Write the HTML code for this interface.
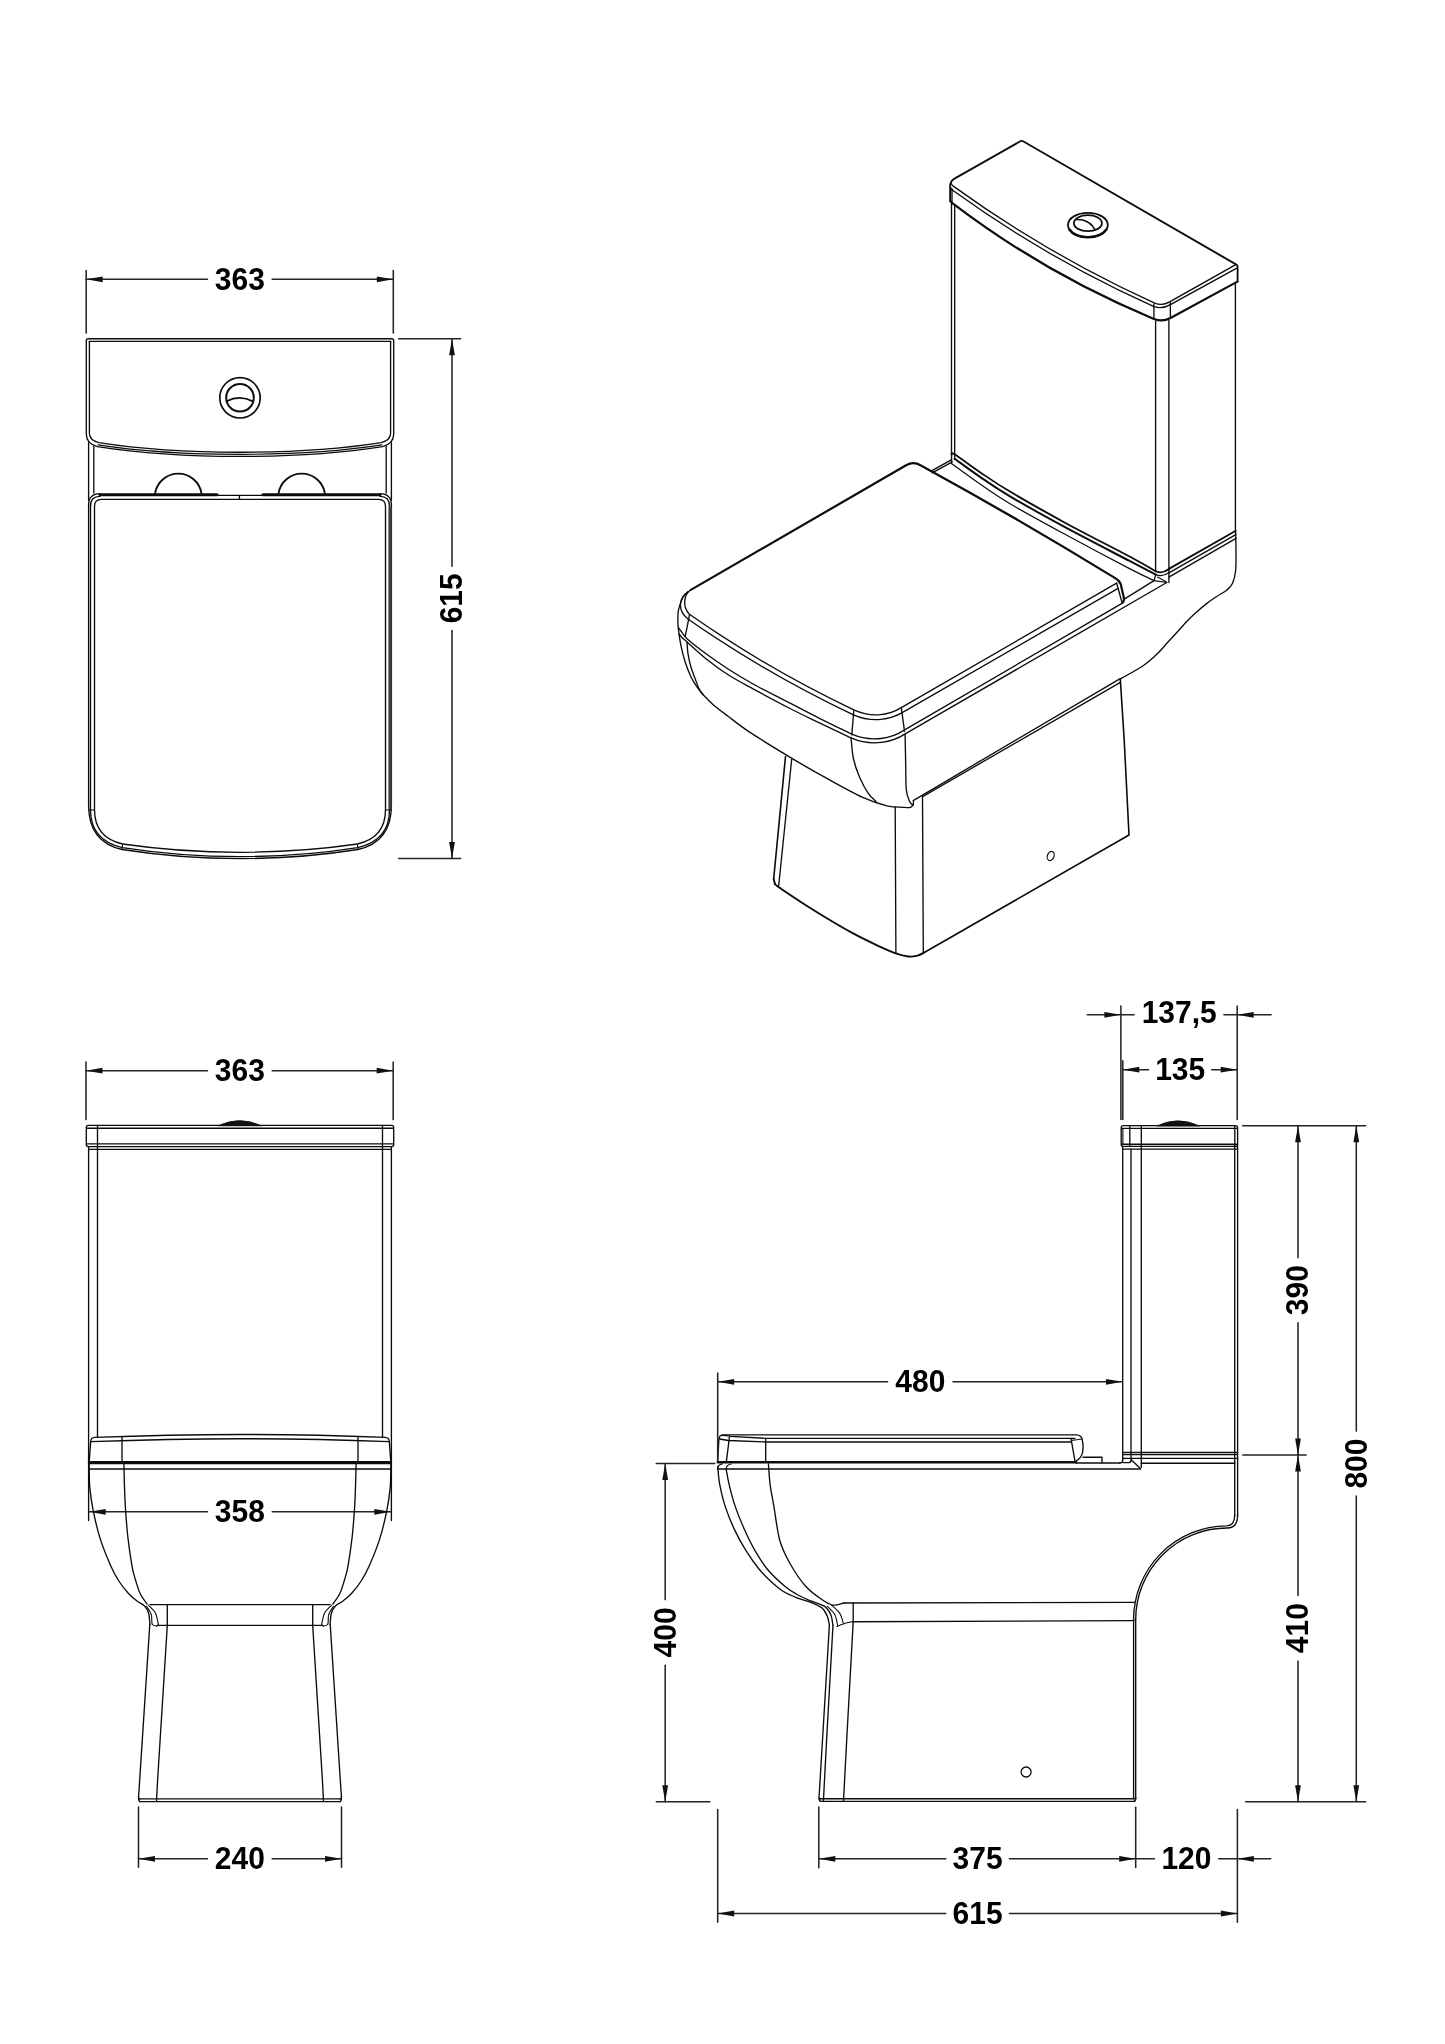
<!DOCTYPE html>
<html lang="en"><head><meta charset="utf-8"><title>Close coupled toilet - technical drawing</title>
<style>html,body{margin:0;padding:0;background:#fff}body{width:1445px;height:2044px;overflow:hidden}svg{display:block;will-change:transform}</style>
</head><body>
<svg width="1445" height="2044" viewBox="0 0 1445 2044" fill="none" stroke="#0c0c0c" stroke-width="1.35" stroke-linecap="round" stroke-linejoin="round" font-family="'Liberation Sans', sans-serif" font-weight="700" font-size="31" text-anchor="middle">
<style>text{fill:#000;stroke:none}.d{stroke:#242424;stroke-width:1.55}</style>
<g id="top-view">
<path class="d" d="M86.2 270.6L86.2 333"/>
<path class="d" d="M393.3 270.6L393.3 333"/>
<path class="d" d="M86.2 279.3L207.4 279.3"/>
<path class="d" d="M272.2 279.3L393.3 279.3"/>
<path d="M86.2 279.3L102.7 276.4L102.7 282.2Z" fill="#111" stroke="none"/>
<path d="M393.3 279.3L376.8 276.4L376.8 282.2Z" fill="#111" stroke="none"/>
<text transform="translate(239.8 289.7) scale(0.968 1)" x="0" y="0">363</text>
<path class="d" d="M398.7 338.7L460.6 338.7"/>
<path class="d" d="M398.7 858.4L460.6 858.4"/>
<path class="d" d="M452 338.7L452 566.3"/>
<path class="d" d="M452 630.4L452 858.4"/>
<path d="M452 338.7L449.1 355.2L454.9 355.2Z" fill="#111" stroke="none"/>
<path d="M452 858.4L449.1 841.9L454.9 841.9Z" fill="#111" stroke="none"/>
<text transform="translate(452 598.3) rotate(-90) scale(0.968 1)" x="0" y="10.4">615</text>
<path d="M88.3 338.7H391.7Q393.7 338.7 393.7 340.7V434Q393.7 443.6 382.7 446.6Q320 456.4 240 456.4Q160 456.4 97.3 446.6Q86.3 443.6 86.3 434V340.7Q86.3 338.7 88.3 338.7Z"/>
<path d="M89.4 341.4H390.6"/>
<path d="M89.4 341.4V433.5Q89.6 440.2 98.8 442.6Q160 452.2 240 452.2Q320 452.2 381.2 442.6Q390.4 440.2 390.6 433.5V341.4"/>
<path d="M98 444.8Q160 454.3 240 454.3Q320 454.3 382 444.8" stroke-width="1.2"/>
<circle cx="240" cy="397.8" r="20.2" stroke-width="1.7"/>
<circle cx="240" cy="397.7" r="13.8" stroke-width="2"/>
<path d="M226.6 401.2Q239.8 394.4 252.9 401.4" stroke-width="1.8"/>
<path d="M88.6 442L88.6 500"/>
<path d="M93.8 446.5L93.8 493"/>
<path d="M391.4 442L391.4 500"/>
<path d="M386.2 446.5L386.2 493"/>
<path d="M155.1 493.4A23.5 23.5 0 0 1 201.5 493.4" stroke-width="1.9"/>
<path d="M278.5 493.4A23.5 23.5 0 0 1 324.9 493.4" stroke-width="1.9"/>
<path d="M100 494.7L217 494.7" stroke-width="3.1"/>
<path d="M263 494.7L380 494.7" stroke-width="3.1"/>
<path d="M216 495.4L264 495.4"/>
<path d="M239.4 495.4L239.4 499.2"/>
<path d="M100 493.7Q88.6 494 88.6 505V805Q88.4 842 122.2 849.5Q180 858.6 240 858.6Q300 858.6 357.8 849.5Q391.6 842 391.4 805V505Q391.4 494 380 493.7"/>
<path d="M90.5 506Q90.6 496.4 100 496.4M389.5 506Q389.4 496.4 380 496.4"/>
<path d="M90.5 505V810Q90.6 840.5 122.4 847.6Q180 856.6 240 856.6Q300 856.6 357.6 847.6Q389.4 840.5 389.5 810V505"/>
<path d="M101.5 499.3H378.5Q385.5 499.3 385.5 506.3V810Q385.4 837.5 357.4 844Q300 852.3 240 852.3Q180 852.3 122.6 844Q94.6 837.5 94.5 810V506.3Q94.5 499.3 101.5 499.3Z"/>
<path d="M390.2 507V810" stroke="#3c3c3c" stroke-width="3.3" stroke-linecap="butt"/>
<path d="M88.6 810L94.5 810" stroke-width="1.1"/>
<path d="M122.2 849.5L122.6 844" stroke-width="1.1"/>
<path d="M391.4 810L385.5 810" stroke-width="1.1"/>
<path d="M357.8 849.5L357.4 844" stroke-width="1.1"/>
</g>
<g id="front-view">
<path class="d" d="M86 1062.1L86 1119.6"/>
<path class="d" d="M393.2 1062.1L393.2 1119.6"/>
<path class="d" d="M86 1070.7L207.4 1070.7"/>
<path class="d" d="M272.2 1070.7L393.2 1070.7"/>
<path d="M86 1070.7L102.5 1067.8L102.5 1073.6Z" fill="#111" stroke="none"/>
<path d="M393.2 1070.7L376.7 1067.8L376.7 1073.6Z" fill="#111" stroke="none"/>
<text transform="translate(239.8 1081.1) scale(0.968 1)" x="0" y="0">363</text>
<path d="M88.3 1125.4H391.7Q393.7 1125.4 393.7 1127.4V1144.6Q393.7 1146.6 391.7 1146.6H88.3Q86.3 1146.6 86.3 1144.6V1127.4Q86.3 1125.4 88.3 1125.4Z"/>
<path d="M87 1128.2H393"/>
<path d="M86.6 1143.8H393.4"/>
<path d="M88.7 1149.3H391.3"/>
<path d="M218.5 1125.6Q240 1115.6 261 1125.6Z" fill="#111" stroke="#111" stroke-width="0.8"/>
<path d="M88.6 1146.6L88.6 1520.4"/>
<path d="M97.5 1125.4L97.5 1437.2"/>
<path d="M391.4 1146.6L391.4 1520.4"/>
<path d="M382.5 1125.4L382.5 1437.2"/>
<path class="d" d="M89.2 1511.8L207.4 1511.8"/>
<path class="d" d="M272.2 1511.8L390.8 1511.8"/>
<path d="M89.2 1511.8L105.7 1508.9L105.7 1514.7Z" fill="#111" stroke="none"/>
<path d="M390.8 1511.8L374.3 1508.9L374.3 1514.7Z" fill="#111" stroke="none"/>
<text transform="translate(239.8 1522.2) scale(0.968 1)" x="0" y="0">358</text>
<path d="M89.3 1461Q90 1450 90.7 1441.4Q91 1437.6 94.6 1437.4Q170 1434.5 240 1434.5Q310 1434.5 385.4 1437.4Q389 1437.6 389.3 1441.4Q390 1450 390.7 1461"/>
<path d="M91 1441.6Q170 1438.7 240 1438.7Q310 1438.7 389 1441.6"/>
<path d="M122 1436.6L122 1461"/>
<path d="M358 1436.6L358 1461"/>
<path d="M89.4 1462.6L390.6 1462.6" stroke-width="3.1"/>
<path d="M89.8 1469H390.2"/>
<path d="M89.2 1464.5C89.2 1465.4 89.1 1466 89.2 1470C89.3 1474 89.2 1481.8 89.9 1488.6C90.6 1495.4 91.5 1502.4 93.2 1510.7C94.9 1519 97.2 1529.2 100.1 1538.4C103 1547.6 107.7 1559 110.8 1566.1C113.9 1573.2 115.8 1576.4 118.8 1581C121.8 1585.6 125.5 1590.2 128.5 1593.5C131.5 1596.8 134.3 1599 137 1601C139.7 1603 142.5 1603.8 144.4 1605.8C146.3 1607.8 147.7 1610.1 148.6 1613.2C149.5 1616.3 149.7 1622.6 149.9 1624.5"/>
<path d="M123.9 1463.7C124 1468.1 124.3 1482.2 124.6 1490C124.9 1497.8 125 1502.6 125.6 1510.7C126.2 1518.8 126.9 1529.2 128 1538.4C129.1 1547.6 130.8 1559.2 132 1566.1C133.2 1573 134.1 1575.4 135.5 1580C136.9 1584.6 138.4 1589.8 140.3 1593.8C142.2 1597.8 146 1602.5 147.2 1604.2"/>
<path d="M146.5 1606.3C147.3 1607.7 150.4 1611.6 151.3 1614.6C152.2 1617.6 151.3 1622.4 152.2 1624.3C153.1 1626.2 156.1 1625.9 156.9 1626.2" stroke-width="1.1"/>
<path d="M148.6 1605.4C149.8 1606.7 153.8 1609.9 155.5 1613.2C157.2 1616.5 158 1623.2 158.5 1625.2" stroke-width="1.1"/>
<path d="M167.3 1604.6L167.3 1625.5"/>
<path d="M149.8 1624.3L139.7 1780L138.5 1797.8L140 1798.8"/>
<path d="M167.3 1625.5L157.6 1780L156.5 1801.4"/>
<path d="M390.8 1464.5C390.8 1465.4 390.9 1466 390.8 1470C390.7 1474 390.8 1481.8 390.1 1488.6C389.4 1495.4 388.5 1502.4 386.8 1510.7C385.1 1519 382.8 1529.2 379.9 1538.4C377 1547.6 372.3 1559 369.2 1566.1C366.1 1573.2 364.1 1576.4 361.2 1581C358.2 1585.6 354.5 1590.2 351.5 1593.5C348.5 1596.8 345.6 1599 343 1601C340.4 1603 337.5 1603.8 335.6 1605.8C333.7 1607.8 332.3 1610.1 331.4 1613.2C330.5 1616.3 330.3 1622.6 330.1 1624.5"/>
<path d="M356.1 1463.7C356 1468.1 355.7 1482.2 355.4 1490C355.1 1497.8 355 1502.6 354.4 1510.7C353.8 1518.8 353.1 1529.2 352 1538.4C350.9 1547.6 349.2 1559.2 348 1566.1C346.8 1573 345.9 1575.4 344.5 1580C343.1 1584.6 341.6 1589.8 339.7 1593.8C337.8 1597.8 333.9 1602.5 332.8 1604.2"/>
<path d="M333.5 1606.3C332.7 1607.7 329.6 1611.6 328.7 1614.6C327.8 1617.6 328.7 1622.4 327.8 1624.3C326.9 1626.2 323.9 1625.9 323.1 1626.2" stroke-width="1.1"/>
<path d="M331.4 1605.4C330.2 1606.7 326.1 1609.9 324.5 1613.2C322.9 1616.5 322 1623.2 321.5 1625.2" stroke-width="1.1"/>
<path d="M312.7 1604.6L312.7 1625.5"/>
<path d="M330.2 1624.3L340.3 1780L341.5 1797.8L340 1798.8"/>
<path d="M312.7 1625.5L322.4 1780L323.5 1801.4"/>
<path d="M150 1604.6H330"/>
<path d="M157 1625.4H323"/>
<path d="M138.6 1798.8H341.4"/>
<path d="M139.6 1801.6H340.4"/>
<path d="M138.5 1797.8Q138.5 1801.6 140.5 1801.6M341.5 1797.8Q341.5 1801.6 339.5 1801.6"/>
<path class="d" d="M138.5 1807.1L138.5 1867.3"/>
<path class="d" d="M341.5 1807.1L341.5 1867.3"/>
<path class="d" d="M138.5 1858.8L207.4 1858.8"/>
<path class="d" d="M272.2 1858.8L341.5 1858.8"/>
<path d="M138.5 1858.8L155 1855.9L155 1861.7Z" fill="#111" stroke="none"/>
<path d="M341.5 1858.8L325 1855.9L325 1861.7Z" fill="#111" stroke="none"/>
<text transform="translate(239.8 1869.2) scale(0.968 1)" x="0" y="0">240</text>
</g>
<g id="side-view">
<path class="d" d="M1120.9 1006.1L1120.9 1119.5"/>
<path class="d" d="M1237.2 1006.1L1237.2 1119.5"/>
<path class="d" d="M1122.8 1060.8L1122.8 1119.5"/>
<path class="d" d="M1087.3 1014.8L1134.2 1014.8"/>
<path d="M1120.9 1014.8L1104.4 1011.9L1104.4 1017.7Z" fill="#111" stroke="none"/>
<path class="d" d="M1223.9 1014.8L1271.1 1014.8"/>
<path d="M1237.2 1014.8L1253.7 1011.9L1253.7 1017.7Z" fill="#111" stroke="none"/>
<text transform="translate(1179.2 1022.7) scale(0.968 1)" x="0" y="0">137,5</text>
<path class="d" d="M1122.8 1069.7L1148.6 1069.7"/>
<path d="M1122.8 1069.7L1139.3 1066.8L1139.3 1072.6Z" fill="#111" stroke="none"/>
<path class="d" d="M1211.7 1069.7L1237.2 1069.7"/>
<path d="M1237.2 1069.7L1220.7 1066.8L1220.7 1072.6Z" fill="#111" stroke="none"/>
<text transform="translate(1180.2 1080.1) scale(0.968 1)" x="0" y="0">135</text>
<path d="M1123.2 1125.6H1235.6Q1237.6 1125.6 1237.6 1127.6V1144.4Q1237.6 1146.4 1235.6 1146.4H1123.2Q1121.2 1146.4 1121.2 1144.4V1127.6Q1121.2 1125.6 1123.2 1125.6Z"/>
<path d="M1122 1128.4H1237"/>
<path d="M1121.6 1144.2H1237.2"/>
<path d="M1122.6 1149.1H1237.4"/>
<path d="M1122.9 1128.4L1122.9 1144.2" stroke-width="1.1"/>
<path d="M1129.8 1125.6L1129.8 1146.4"/>
<path d="M1141.3 1125.6L1141.3 1467.4"/>
<path d="M1234.8 1125.6L1234.8 1146.4"/>
<path d="M1157.2 1125.8Q1178 1115.8 1199 1125.8Z" fill="#111" stroke="#111" stroke-width="0.8"/>
<path d="M1122.7 1146.4L1122.7 1460"/>
<path d="M1131 1149.1L1131 1459.8"/>
<path d="M1234.7 1146.4L1234.7 1516"/>
<path d="M1237.6 1146.4L1237.6 1516"/>
<path d="M1122.8 1452.6H1237.6" stroke-width="1.5"/>
<path d="M1122.8 1454.6H1237.6" stroke-width="1.2"/>
<path d="M1122.8 1458.4H1237.6"/>
<path d="M1141.3 1463.2H1234.7"/>
<path d="M1122.7 1459.5Q1122.7 1463 1119.5 1463.1"/>
<path d="M1122.8 1462.6H1129Q1131.2 1462.4 1131.2 1459.8L1140.4 1468.4"/>
<path d="M717.8 1462.3L1076 1462.3" stroke-width="2.4"/>
<path d="M1076 1463H1120"/>
<path d="M718.8 1469H1140.6"/>
<path d="M1083 1457.2H1102V1462.8"/>
<path d="M717.7 1461.2L718.9 1439.2Q719.2 1435 723.2 1434.8H1076.5Q1081.6 1435 1082.3 1440Q1084.2 1450 1081.5 1455.5Q1079 1460.6 1074 1461.6"/>
<path d="M721.6 1435.3Q726 1435.5 730.5 1436.3L765.7 1438.3H1075"/>
<path d="M719.6 1439L728.3 1440.5L765.7 1442H1071"/>
<path d="M729.4 1437.4L726.4 1461.4"/>
<path d="M765.7 1438.5L765.7 1461.6"/>
<path d="M1071 1438.4L1074.9 1460.8"/>
<path d="M1071.4 1440.4Q1077 1440 1082 1439" stroke-width="1.1"/>
<path d="M717.6 1469.5Q717.4 1464.4 722.4 1463.8M726.1 1469.5Q726.2 1464.6 731.2 1464" stroke-width="1.2"/>
<path d="M717.7 1466.6C718 1469.5 718.5 1477.7 719.7 1484.3C721 1490.9 722.8 1499 725.2 1506.4C727.6 1513.8 730.5 1521.2 734 1528.6C737.5 1536 741.8 1544 746 1550.7C750.2 1557.4 754.8 1563.9 759 1569C763.2 1574.1 767 1577.8 771 1581.5C775 1585.2 778.7 1588.5 783 1591.2C787.3 1593.9 792.4 1596 797 1597.8C801.6 1599.6 806.6 1600.6 810.7 1602.3C814.8 1604 819 1605.5 821.8 1607.8C824.6 1610.1 826 1613.2 827.3 1616.1C828.6 1619 829 1623.6 829.4 1625.1"/>
<path d="M726.1 1468.8C726.6 1471.4 727.6 1478 729.1 1484.3C730.6 1490.6 732.7 1499 735.2 1506.4C737.7 1513.8 740.7 1521.2 744 1528.6C747.3 1536 751 1543.8 755 1550.7C759 1557.6 762.9 1563.9 768 1570C773.1 1576.1 780.8 1582.9 785.8 1587.1C790.8 1591.3 793.9 1592.7 798 1595C802.1 1597.3 806.3 1599 810.7 1600.9C815.1 1602.8 821.2 1604.1 824.6 1606.4C828 1608.7 829.4 1611.6 830.8 1614.7C832.2 1617.8 832.5 1623.4 832.9 1625.1"/>
<path d="M768.4 1463.8C768.7 1467.2 769.2 1477.2 770.1 1484.3C771 1491.4 772.3 1497 773.9 1506.4C775.5 1515.8 777.1 1531 779.8 1540.5C782.5 1550 785.8 1556 790 1563.5C794.2 1571 799.9 1579.7 805.2 1585.7C810.5 1591.7 817.2 1596.3 821.8 1599.5C826.4 1602.7 829.2 1604.5 832.9 1605.1C836.6 1605.7 842.1 1603.3 843.9 1603"/>
<path d="M843.9 1603L1134.6 1602.4"/>
<path d="M837 1626.5C838.1 1626 841.4 1624.5 843.9 1623.7C846.4 1622.9 850.8 1622 852.2 1621.7" stroke-width="1.1"/>
<path d="M852.2 1621.7L1134 1620.6"/>
<path d="M827.3 1606.4C828.6 1607.8 833.2 1611.5 834.9 1614.7C836.6 1617.9 837.2 1624 837.7 1625.8" stroke-width="1.1"/>
<path d="M831.5 1605.1C832.9 1606.5 837.8 1610.4 839.8 1613.4C841.8 1616.4 842.7 1621.4 843.3 1623" stroke-width="1.1"/>
<path d="M853.2 1603L853.2 1621.7"/>
<path d="M853.2 1621.7L846.7 1740L843.5 1801"/>
<path d="M829.4 1625.1L822.5 1740L819 1798L820.5 1798.8"/>
<path d="M833 1625.1L826.6 1740L823.4 1801"/>
<path d="M819.2 1798.7H1135.6"/>
<path d="M820.5 1801.3H1134.8"/>
<path d="M819 1798Q819 1801.3 821 1801.3M1135.7 1798Q1135.7 1801.3 1133.7 1801.3"/>
<path d="M1133.6 1619.6L1133.6 1798.7"/>
<path d="M1135.7 1619.6L1135.7 1798.7"/>
<path d="M1237.6 1515.2Q1237.6 1527.6 1227.6 1528A91.6 91.6 0 0 0 1135.7 1619.6"/>
<path d="M1234.7 1515.2Q1234.6 1525.6 1226.5 1525.9A93.7 93.7 0 0 0 1133.6 1619.6"/>
<circle cx="1026.1" cy="1772" r="5" stroke-width="1.3"/>
<path class="d" d="M1242.7 1125.7L1365.6 1125.7"/>
<path class="d" d="M1242.8 1455L1306.2 1455"/>
<path class="d" d="M1245.7 1801.7L1365.6 1801.7"/>
<path class="d" d="M1298 1125.7L1298 1257.8"/>
<path class="d" d="M1298 1322.7L1298 1455"/>
<path d="M1298 1125.7L1295.1 1142.2L1300.9 1142.2Z" fill="#111" stroke="none"/>
<path d="M1298 1455L1295.1 1438.5L1300.9 1438.5Z" fill="#111" stroke="none"/>
<text transform="translate(1298 1290.2) rotate(-90) scale(0.968 1)" x="0" y="10.4">390</text>
<path class="d" d="M1298 1455L1298 1595.4"/>
<path class="d" d="M1298 1661L1298 1801.7"/>
<path d="M1298 1455L1295.1 1471.5L1300.9 1471.5Z" fill="#111" stroke="none"/>
<path d="M1298 1801.7L1295.1 1785.2L1300.9 1785.2Z" fill="#111" stroke="none"/>
<text transform="translate(1298 1628.2) rotate(-90) scale(0.968 1)" x="0" y="10.4">410</text>
<path class="d" d="M1356.3 1125.7L1356.3 1431.1"/>
<path class="d" d="M1356.3 1496.1L1356.3 1801.7"/>
<path d="M1356.3 1125.7L1353.4 1142.2L1359.2 1142.2Z" fill="#111" stroke="none"/>
<path d="M1356.3 1801.7L1353.4 1785.2L1359.2 1785.2Z" fill="#111" stroke="none"/>
<text transform="translate(1356.3 1463.6) rotate(-90) scale(0.968 1)" x="0" y="10.4">800</text>
<path class="d" d="M656.3 1463.5L714.7 1463.5"/>
<path class="d" d="M656.3 1801.7L709.8 1801.7"/>
<path class="d" d="M665.2 1463.5L665.2 1599.6"/>
<path class="d" d="M665.2 1665.2L665.2 1801.7"/>
<path d="M665.2 1463.5L662.3 1480L668.1 1480Z" fill="#111" stroke="none"/>
<path d="M665.2 1801.7L662.3 1785.2L668.1 1785.2Z" fill="#111" stroke="none"/>
<text transform="translate(665.2 1632.4) rotate(-90) scale(0.968 1)" x="0" y="10.4">400</text>
<path class="d" d="M717.7 1373.1L717.7 1461.2"/>
<path class="d" d="M717.7 1381.8L887.6 1381.8"/>
<path class="d" d="M953 1381.8L1122.5 1381.8"/>
<path d="M717.7 1381.8L734.2 1378.9L734.2 1384.7Z" fill="#111" stroke="none"/>
<path d="M1122.5 1381.8L1106 1378.9L1106 1384.7Z" fill="#111" stroke="none"/>
<text transform="translate(920.3 1392.2) scale(0.968 1)" x="0" y="0">480</text>
<path class="d" d="M818.8 1807.1L818.8 1867.7"/>
<path class="d" d="M1135.7 1807.3L1135.7 1867.5"/>
<path class="d" d="M818.8 1858.8L945.8 1858.8"/>
<path class="d" d="M1009.5 1858.8L1135.7 1858.8"/>
<path d="M818.8 1858.8L835.3 1855.9L835.3 1861.7Z" fill="#111" stroke="none"/>
<path d="M1135.7 1858.8L1119.2 1855.9L1119.2 1861.7Z" fill="#111" stroke="none"/>
<text transform="translate(977.6 1869.2) scale(0.968 1)" x="0" y="0">375</text>
<path class="d" d="M1135.7 1858.8L1154.4 1858.8"/>
<path class="d" d="M1218.8 1858.8L1270.7 1858.8"/>
<path d="M1237.4 1858.8L1253.9 1855.9L1253.9 1861.7Z" fill="#111" stroke="none"/>
<text transform="translate(1186.4 1869.2) scale(0.968 1)" x="0" y="0">120</text>
<path class="d" d="M717.7 1809.4L717.7 1922.2"/>
<path class="d" d="M1237.4 1809.4L1237.4 1922.2"/>
<path class="d" d="M717.7 1913.5L945.8 1913.5"/>
<path class="d" d="M1009.5 1913.5L1237.4 1913.5"/>
<path d="M717.7 1913.5L734.2 1910.6L734.2 1916.4Z" fill="#111" stroke="none"/>
<path d="M1237.4 1913.5L1220.9 1910.6L1220.9 1916.4Z" fill="#111" stroke="none"/>
<text transform="translate(977.6 1923.9) scale(0.968 1)" x="0" y="0">615</text>
</g>
<g id="iso-view">
<path d="M950.1 201V186.5Q950.2 181 954.5 178.6L1020.3 141.3Q1021.7 140.5 1023.1 141.3L1236.4 264.6Q1237.6 265.3 1237.6 266.8V281.6" stroke-width="1.8"/>
<path d="M951.4 183.6Q952 185.4 953.6 186.4Q1047.8 254.5 1154.7 303.1Q1162.3 306.2 1169.6 301.9L1235.8 264.6"/>
<path d="M950.4 187.4Q951.4 189.6 953.4 190.8Q1047.4 258.8 1154 306.6Q1162.3 309.4 1170.4 304.6L1236.8 268.2"/>
<path d="M952 189L952 202.6"/>
<path d="M1153.9 304L1153.9 318.9"/>
<path d="M1170.3 302.4L1170.4 318"/>
<path d="M950.6 201.4Q951.2 202.8 953 203.6Q1045.7 274.1 1153.9 318.9Q1162.2 322.4 1170.5 318L1237.4 281.6" stroke-width="2.2"/>
<ellipse cx="1087.9" cy="225" rx="19.9" ry="12.2" stroke-width="1.8"/>
<path d="M1069.6 229.8A19.9 12.2 0 0 0 1106.2 229.8" stroke-width="2.5"/>
<ellipse cx="1087.9" cy="223.2" rx="14" ry="8" stroke-width="1.8"/>
<path d="M1076 219.4C1076.8 219.5 1079.4 219.5 1081 219.8C1082.6 220.1 1084 220.4 1085.4 221C1086.8 221.6 1088.3 222.4 1089.4 223.2C1090.5 224 1091.2 224.5 1092.1 225.6C1093 226.7 1094.4 229.1 1094.9 229.8" stroke-width="1.6"/>
<path d="M951.5 203L951.5 455.5"/>
<path d="M954.7 205L954.7 459.5"/>
<path d="M1155.6 321.5L1155.6 571.5"/>
<path d="M1168.9 320.5L1168.9 582.5"/>
<path d="M1235.4 283L1235.4 531"/>
<path d="M951.6 454.6C952.1 454.6 949.9 451.4 954.6 454.3C959.3 457.2 970.8 466 980 472.2C989.2 478.4 995.8 483.2 1010 491.6C1024.2 500 1045 511.8 1065 522.7C1085 533.6 1114.9 548.7 1130 556.8C1145.1 564.9 1151.5 568.8 1155.8 571.2" stroke-width="1.8"/>
<path d="M1155.8 571.2Q1162.3 574.2 1168.9 569" stroke-width="1.8"/>
<path d="M954.6 458.7C958.8 461.7 970.8 470.6 980 476.9C989.2 483.2 995.8 488 1010 496.4C1024.2 504.8 1045 516.4 1065 527.2C1085 538 1114.9 553.3 1130 561.2C1145.1 569.1 1151.5 572.4 1155.8 574.6" stroke-width="2"/>
<path d="M1155.8 574.6Q1162.3 577.2 1168.9 572.8"/>
<path d="M951.4 463.5C956.2 466.9 970.2 477.3 980 484C989.8 490.7 995.8 495.3 1010 503.7C1024.2 512.1 1045 523.4 1065 534.3C1085 545.2 1115.2 561.2 1130 568.9C1144.8 576.6 1150 578.6 1154 580.6" stroke-width="1.2"/>
<path d="M951.6 455.5L951.4 463.5M1155.8 574.6L1154 580.6"/>
<path d="M1168.9 568.9L1235.4 531" stroke-width="1.8"/>
<path d="M1168.9 572.8L1235.8 534.6"/>
<path d="M1168.9 577.2L1236 538.4"/>
<path d="M1154 580.6L1166.8 582.5M1157.6 577L1166.8 582.3" stroke-width="1.1"/>
<path d="M931.1 471.1L951.7 459.6M932.2 472.8L952.3 461.8"/>
<path d="M1154 580.6L1123.9 599.4"/>
<path d="M1235.6 530C1235.7 533.7 1236 545.2 1236 552C1236 558.8 1236.2 565.7 1235.6 571C1235 576.3 1233.9 580.4 1232.4 583.6C1231 586.8 1229.6 587.8 1226.9 590C1224.2 592.2 1219.7 594.5 1216.3 596.8C1212.9 599.1 1209.8 601.1 1206.6 603.6C1203.4 606.1 1200.1 608.9 1196.9 611.8C1193.7 614.7 1190.4 617.7 1187.2 621C1184 624.3 1180.7 628.2 1177.5 631.7C1174.3 635.2 1171 638.8 1167.8 642.3C1164.6 645.8 1161.3 649.8 1158.1 653C1154.9 656.2 1151.6 659.1 1148.4 661.7C1145.2 664.3 1143.5 665.6 1138.8 668.5C1134.1 671.4 1123.4 677.2 1120.3 678.9"/>
<path d="M690.8 589.9L906.1 465.2Q913.5 461 920.5 465.2Q1019.2 519.2 1114.8 577.9Q1119.4 580.5 1120.7 584L1123.9 598Q1124.4 601.4 1122.4 602.8" stroke-width="2.2"/>
<path d="M1116.6 583L1121.8 601.8"/>
<path d="M690.8 589.9C684 594 682.2 606 689.1 614Q767.4 668.8 853.8 709.8C873 718.6 890 714.6 901.3 707.6L1116.6 583.2"/>
<path d="M688.3 591.6C678.6 598 677.2 610.5 687.9 619Q766.2 673.6 853.4 714.8C873 723.4 891 719.2 902.2 712.7L1117.7 588.6"/>
<path d="M678.7 627.9C679.3 628.8 681 631.3 682.5 633.2C684 635.1 684.1 636.2 687.9 639.5C691.6 642.8 698.3 648.1 705 653C711.7 657.9 720.1 663.8 728.1 669C736.1 674.2 742.8 678.3 753.1 684C763.4 689.7 778.9 697.3 790 703.1C801.1 708.9 809.7 713.4 820 718.6C830.3 723.8 846.5 731.6 851.8 734.2"/>
<path d="M851.8 734.2C872 743 892 738.2 904.2 730.1L1122.4 603.2"/>
<path d="M679.1 634.1C679.7 634.8 681.2 636.7 682.5 638C683.8 639.3 683.2 638.7 687 642C690.8 645.3 698.1 652.5 705 658C711.9 663.5 720.1 669.6 728.1 674.8C736.1 679.9 742.8 683.3 753.1 688.9C763.4 694.5 778.9 702.8 790 708.5C801.1 714.2 809.7 718.2 820 723.2C830.3 728.2 846.3 735.7 851.6 738.2"/>
<path d="M851.6 738.2C872 747 893 742 905.2 733.9L1166.8 582.5"/>
<path d="M689.5 614.9L685.4 635.6M853.8 710.7L851.8 734.9M901.3 707.8L904.5 731.2"/>
<path d="M688.3 591.6C687.4 592.5 684.6 594 683 597C681.4 600 679.4 606.1 678.5 609.9C677.6 613.7 677.9 616.9 677.9 620C677.9 623.1 677.8 624.1 678.3 628.3C678.8 632.4 679.7 639.4 680.8 644.9C681.9 650.4 683.3 656.2 685 661.5C686.7 666.8 688.9 672.4 690.8 676.5C692.7 680.6 694.5 683.4 696.6 686.4C698.7 689.4 700.4 691.8 703.2 694.8C706 697.8 709.1 701.1 713.2 704.7C717.4 708.3 722 711.7 728.1 716.3C734.2 720.9 740.3 726 750 732.4C759.7 738.8 773.6 747.3 786.1 754.8C798.6 762.3 812 770.2 824.7 777.2C837.4 784.2 851.7 792.3 862.1 797.1C872.5 801.9 880.1 804.1 887 805.8C893.9 807.5 899.3 807 903.2 807.3C907.1 807.6 908.7 807.8 910.4 807.4C912.1 807 912.9 805.1 913.4 804.6"/>
<path d="M687 642C687.1 643.9 687.3 649.1 687.9 653.2C688.5 657.3 689.6 662.4 690.8 666.5C692 670.6 693.5 674.4 694.9 678.1C696.3 681.8 697.7 686.1 699.1 688.9C700.5 691.7 702.5 693.8 703.2 694.8"/>
<path d="M851 737.5C851.4 741 852 751.9 853.4 758.5C854.8 765.1 857.1 771.4 859.6 777.2C862.1 783 865.6 789.4 868.3 793.4C871 797.4 874.7 800.1 876 801.5"/>
<path d="M905.1 734.2C905.2 739.3 905.5 755.5 905.7 764.7C905.9 774 905.7 783.7 906.3 789.7C906.9 795.7 908.3 798.3 909.4 800.9C910.5 803.5 912.1 804.5 912.6 805.2"/>
<path d="M912.6 805.2Q914 802.6 913.2 800.6L1120.2 678.6"/>
<path d="M922.6 796.6L1120.4 682.4"/>
<path d="M785.5 756.5L773.7 878.7" stroke-width="1.6"/>
<path d="M773.7 878.7C773.9 879.4 774.2 881.8 774.8 883C775.4 884.2 772.9 882.9 777.5 886.2C782.1 889.5 794.1 897.6 802.4 903C810.7 908.4 819 913.5 827.3 918.5C835.6 923.5 843.9 928.4 852.2 932.9C860.5 937.4 869.8 941.9 877.1 945.3C884.4 948.7 890.6 951.5 895.8 953.4C901 955.3 904.6 956.1 908.2 956.5C911.8 956.9 914.8 956.3 917.5 955.6C920.2 954.9 923.2 953 924.3 952.5" stroke-width="1.9"/>
<path d="M924.3 952.5L1129 835L1124.2 740L1120.3 679" stroke-width="1.6"/>
<path d="M791.7 759.2L778.7 885.5"/>
<path d="M895.2 806.8L895.9 953.4"/>
<path d="M922.5 796L923.3 953"/>
<ellipse cx="1050.7" cy="856" rx="3.3" ry="4.7" transform="rotate(22 1050.7 856)" stroke-width="1.2"/>
</g>
</svg>
</body></html>
